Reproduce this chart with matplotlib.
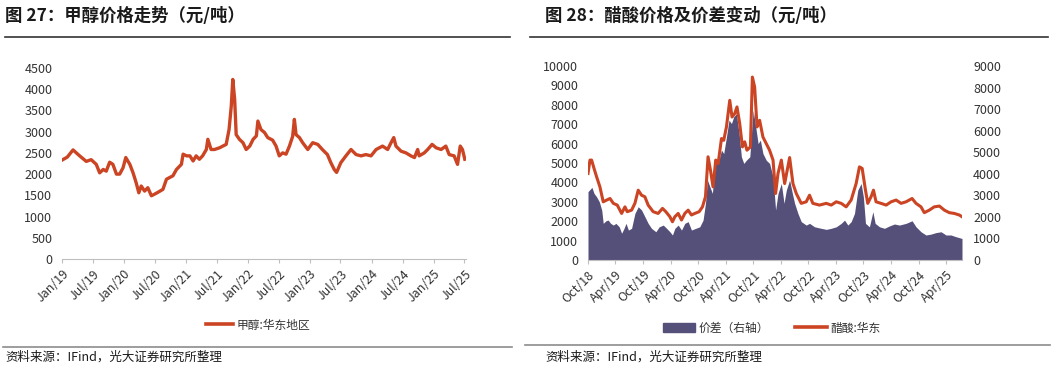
import pandas as pd
import matplotlib
matplotlib.use("Agg")
import matplotlib.pyplot as plt
import matplotlib.dates as mdates
from matplotlib.lines import Line2D
from matplotlib.patches import Patch

plt.rcParams['font.family'] = ['Noto Sans CJK SC', 'DejaVu Sans']

# --- 图27 甲醇:华东地区 (元/吨) ---
meth_dates = [
    "2019-01-01", "2019-02-01", "2019-03-07", "2019-04-15", "2019-05-24", "2019-06-22",
    "2019-07-22", "2019-08-11", "2019-09-01", "2019-09-19", "2019-10-09", "2019-10-28",
    "2019-11-18", "2019-12-07", "2019-12-27", "2020-01-12", "2020-02-05", "2020-02-24",
    "2020-03-13", "2020-03-29", "2020-04-12", "2020-05-02", "2020-05-21", "2020-06-11",
    "2020-07-01", "2020-07-19", "2020-08-18", "2020-09-08", "2020-09-27", "2020-10-16",
    "2020-11-06", "2020-12-05", "2020-12-15", "2021-01-04", "2021-01-24", "2021-02-12",
    "2021-03-02", "2021-03-21", "2021-04-09", "2021-05-01", "2021-05-10", "2021-05-29",
    "2021-06-18", "2021-07-18", "2021-08-06", "2021-08-26", "2021-09-12", "2021-09-25",
    "2021-10-04", "2021-10-15", "2021-10-24", "2021-11-12", "2021-12-03", "2021-12-22",
    "2022-01-12", "2022-02-01", "2022-02-20", "2022-03-01", "2022-03-19", "2022-04-09",
    "2022-04-28", "2022-05-27", "2022-06-16", "2022-07-05", "2022-07-25", "2022-08-14",
    "2022-09-03", "2022-09-22", "2022-10-02", "2022-10-12", "2022-11-01", "2022-11-20",
    "2022-12-20", "2023-01-18", "2023-02-17", "2023-03-16", "2023-04-15", "2023-05-05",
    "2023-05-25", "2023-06-08", "2023-07-03", "2023-08-02", "2023-09-01", "2023-10-01",
    "2023-10-30", "2023-11-28", "2023-12-28", "2024-01-27", "2024-03-05", "2024-04-04",
    "2024-04-24", "2024-05-10", "2024-05-23", "2024-06-22", "2024-07-21", "2024-08-19",
    "2024-09-09", "2024-09-28", "2024-10-07", "2024-11-06", "2024-11-26", "2024-12-22",
    "2025-01-15", "2025-02-13", "2025-03-13", "2025-04-02", "2025-05-01", "2025-05-21",
    "2025-06-06", "2025-06-19", "2025-07-03",
]
meth_price = [
    2330, 2400, 2570, 2430, 2300, 2340,
    2230, 2030, 2110, 2070, 2280, 2230,
    2000, 2000, 2150, 2390, 2230, 2030,
    1800, 1560, 1720, 1600, 1680, 1490,
    1530, 1570, 1640, 1880, 1920, 1960,
    2110, 2230, 2470, 2430, 2430, 2310,
    2430, 2350, 2430, 2580, 2820, 2580,
    2580, 2620, 2660, 2700, 3050, 3600,
    4230, 3760, 2930, 2820, 2740, 2580,
    2660, 2820, 2900, 3250, 3050, 2980,
    2860, 2800, 2660, 2430, 2500, 2470,
    2660, 2890, 3290, 2930, 2860, 2740,
    2580, 2740, 2700, 2580, 2460, 2270,
    2110, 2040, 2270, 2430, 2580, 2460,
    2430, 2460, 2430, 2580, 2660, 2580,
    2740, 2860, 2660, 2540, 2500, 2430,
    2390, 2580, 2430, 2500, 2580, 2700,
    2620, 2580, 2660, 2460, 2430, 2230,
    2660, 2580, 2350,
]

# --- 图28 醋酸:华东 (左轴) ---
acid_dates = [
    "2018-10-01", "2018-10-14", "2018-10-25", "2018-11-10", "2018-11-27", "2018-12-19",
    "2019-01-10", "2019-02-02", "2019-02-24", "2019-03-18", "2019-04-13", "2019-05-12",
    "2019-06-03", "2019-06-18", "2019-07-17", "2019-08-08", "2019-08-30", "2019-09-21",
    "2019-10-13", "2019-11-04", "2019-12-07", "2020-01-09", "2020-02-07", "2020-02-29",
    "2020-03-27", "2020-04-13", "2020-04-29", "2020-05-21", "2020-06-12", "2020-07-04",
    "2020-07-26", "2020-08-17", "2020-09-08", "2020-10-07", "2020-10-29", "2020-11-18",
    "2020-12-05", "2020-12-21", "2021-01-07", "2021-01-25", "2021-02-10", "2021-03-04",
    "2021-03-19", "2021-04-06", "2021-04-28", "2021-05-13", "2021-05-31", "2021-06-15",
    "2021-07-03", "2021-07-21", "2021-08-05", "2021-08-20", "2021-09-12", "2021-09-25",
    "2021-10-10", "2021-10-26", "2021-11-12", "2021-12-04", "2021-12-26", "2022-01-17",
    "2022-02-09", "2022-02-26", "2022-03-14", "2022-04-05", "2022-04-27", "2022-05-30",
    "2022-06-21", "2022-07-13", "2022-08-15", "2022-09-17", "2022-10-09", "2022-10-31",
    "2022-12-14", "2023-01-28", "2023-03-02", "2023-04-04", "2023-05-07", "2023-06-09",
    "2023-07-12", "2023-08-14", "2023-09-05", "2023-09-23", "2023-10-15", "2023-10-30",
    "2023-11-21", "2023-12-07", "2023-12-24", "2024-01-26", "2024-02-29", "2024-04-02",
    "2024-05-05", "2024-06-07", "2024-07-10", "2024-08-19", "2024-09-14", "2024-10-17",
    "2024-11-08", "2024-12-11", "2025-01-13", "2025-02-16", "2025-03-21", "2025-04-23",
    "2025-05-26", "2025-06-28", "2025-07-16",
]
acid_price = [
    4460, 5150, 5150, 4720, 4290, 3770,
    3000, 3090, 3170, 2920, 2830, 2400,
    2740, 2490, 2570, 2920, 3600, 3340,
    3260, 2830, 2490, 2400, 2660, 2490,
    2230, 1970, 2230, 2400, 2060, 2400,
    2570, 2320, 2400, 2490, 2740, 3260,
    5320, 4630, 3770, 5150, 4970, 6260,
    6170, 6860, 8230, 7370, 7550, 7890,
    7030, 5830, 6090, 5660, 5830, 9430,
    8920, 6860, 7200, 6340, 6000, 5660,
    5150, 3430, 4460, 5150, 3940, 5280,
    3940, 3430, 2920, 3000, 3340, 2920,
    2830, 2920, 2830, 3000, 2920, 2740,
    3090, 3940, 4800, 4720, 3600, 2920,
    3260, 3600, 3000, 2920, 2830, 3000,
    3090, 2920, 3000, 3170, 2920, 2740,
    2440, 2570, 2740, 2780, 2570, 2440,
    2400, 2320, 2230,
]

# --- 图28 价差 (右轴) ---
spread_dates = [
    "2018-10-01", "2018-10-14", "2018-10-27", "2018-11-10", "2018-11-27", "2018-12-15",
    "2018-12-31", "2019-01-10", "2019-01-28", "2019-02-12", "2019-02-28", "2019-03-18",
    "2019-04-04", "2019-04-26", "2019-05-12", "2019-05-28", "2019-06-10", "2019-06-26",
    "2019-07-17", "2019-08-08", "2019-08-30", "2019-09-21", "2019-10-13", "2019-11-04",
    "2019-11-26", "2019-12-25", "2020-01-16", "2020-02-12", "2020-03-05", "2020-03-27",
    "2020-04-13", "2020-04-29", "2020-05-21", "2020-06-12", "2020-07-04", "2020-07-26",
    "2020-08-17", "2020-09-15", "2020-10-11", "2020-11-02", "2020-11-18", "2020-12-01",
    "2020-12-17", "2021-01-03", "2021-01-19", "2021-02-10", "2021-03-04", "2021-03-19",
    "2021-04-06", "2021-04-23", "2021-05-09", "2021-05-24", "2021-06-11", "2021-06-29",
    "2021-07-14", "2021-07-30", "2021-08-16", "2021-09-08", "2021-09-30", "2021-10-17",
    "2021-11-02", "2021-11-17", "2021-12-04", "2021-12-26", "2022-01-17", "2022-02-09",
    "2022-02-26", "2022-03-14", "2022-04-05", "2022-04-23", "2022-05-08", "2022-05-30",
    "2022-06-17", "2022-07-02", "2022-07-24", "2022-08-15", "2022-09-17", "2022-10-09",
    "2022-11-11", "2022-12-25", "2023-01-28", "2023-03-02", "2023-04-04", "2023-05-07",
    "2023-05-29", "2023-06-20", "2023-07-12", "2023-08-03", "2023-08-25", "2023-09-16",
    "2023-10-01", "2023-10-15", "2023-11-10", "2023-12-03", "2023-12-18", "2024-01-16",
    "2024-02-18", "2024-03-22", "2024-04-24", "2024-05-27", "2024-07-10", "2024-08-19",
    "2024-09-14", "2024-10-17", "2024-11-19", "2024-12-22", "2025-01-24", "2025-02-27",
    "2025-04-01", "2025-05-04", "2025-06-06", "2025-07-16",
]
spread = [
    3170, 3270, 3370, 3090, 2930, 2700,
    2320, 1700, 1820, 1850, 1700, 1620,
    1700, 1540, 1240, 1470, 1700, 1390,
    1470, 2160, 2470, 2320, 2010, 1700,
    1470, 1310, 1540, 1620, 1470, 1310,
    1160, 1470, 1620, 1390, 1700, 1780,
    1390, 1470, 1540, 1850, 2630, 3710,
    3400, 3090, 4480, 4480, 5100, 4940,
    5710, 6490, 6330, 6640, 6790, 5870,
    4790, 4480, 4630, 4790, 6950, 6180,
    5400, 5560, 4940, 4630, 4480, 3860,
    2320, 3090, 3550, 2630, 3240, 3710,
    3090, 2630, 2160, 1780, 1620, 1700,
    1540, 1470, 1420, 1470, 1540, 1700,
    1850, 1620, 1780, 2160, 3240, 3550,
    2930, 1700, 1540, 2240, 1700, 1540,
    1470, 1580, 1670, 1620, 1700, 1820,
    1540, 1310, 1160, 1200, 1270, 1310,
    1160, 1160, 1080, 1000,
]

RED = "#CB4423"
PURPLE = "#55507A"
GREY = "#BFBFBF"
TXT = "#333333"

W, H = 1054, 369
fig = plt.figure(figsize=(W / 100, H / 100), dpi=100)


def fx(px):
    return px / W


def fy(py):
    return 1 - py / H


def style_axis(ax, first, last):
    for s in ["top", "right", "left"]:
        ax.spines[s].set_visible(False)
    ax.spines["bottom"].set_color(GREY)
    ticks = pd.date_range(first, last, freq="6MS")
    ax.set_xticks(ticks)
    ax.set_xticklabels([t.strftime("%b/%y") for t in ticks], rotation=45,
                       ha="right", va="top", rotation_mode="anchor")
    ax.tick_params(axis="x", colors=GREY, length=3, labelcolor=TXT, labelsize=9, pad=3)
    ax.tick_params(axis="y", length=0, labelcolor=TXT, labelsize=9, pad=7)


# ---------------- left chart ----------------
ax1 = fig.add_axes([fx(62), fy(259), fx(466 - 62), (259 - 68) / H])
ax1.plot(pd.to_datetime(meth_dates), meth_price, color=RED, lw=2.4, label="甲醇:华东地区")
ax1.set_ylim(0, 4500)
ax1.set_yticks(range(0, 4501, 500))
style_axis(ax1, "2019-01-01", "2025-07-01")
ax1.set_xlim(pd.Timestamp("2019-01-01"), pd.Timestamp("2025-07-10"))

# ---------------- right chart ----------------
ax2 = fig.add_axes([fx(588), fy(260), fx(962 - 588), (260 - 66) / H])
ax3 = ax2.twinx()
ax3.fill_between(pd.to_datetime(spread_dates), 0, spread, color=PURPLE, lw=0)
ax2.plot(pd.to_datetime(acid_dates), acid_price, color=RED, lw=2.2)
ax2.set_zorder(ax3.get_zorder() + 1)
ax2.patch.set_visible(False)
ax2.set_ylim(0, 10000)
ax2.set_yticks(range(0, 10001, 1000))
ax3.set_ylim(0, 9000)
ax3.set_yticks(range(0, 9001, 1000))
style_axis(ax2, "2018-10-01", "2025-04-01")
ax2.set_xlim(pd.Timestamp("2018-10-01"), pd.Timestamp("2025-07-16"))
for s in ["top", "right", "left", "bottom"]:
    ax3.spines[s].set_visible(False)
ax3.tick_params(axis="y", length=0, labelcolor=TXT, labelsize=9, pad=8)

# ---------------- titles, rules, legends, sources ----------------
fig.text(fx(5), fy(16), "图 27：甲醇价格走势（元/吨）", fontsize=12.5, fontweight="bold",
         color="#1a1a1a", va="center", ha="left")
fig.text(fx(545), fy(16), "图 28：醋酸价格及价差变动（元/吨）", fontsize=12.5, fontweight="bold",
         color="#1a1a1a", va="center", ha="left")

for x0, x1, y, c in [(5, 510, 37, "#333333"), (530, 1048, 37, "#333333"),
                     (3, 512, 347, "#8c8c8c"), (525, 1050, 345, "#8c8c8c")]:
    fig.add_artist(Line2D([fx(x0), fx(x1)], [fy(y), fy(y)], color=c, lw=1.2))

fig.legend(handles=[Line2D([], [], color=RED, lw=2.6)], labels=["甲醇:华东地区"],
           loc="center", bbox_to_anchor=(fx(258), fy(325)), frameon=False,
           fontsize=8.5, handlelength=2.3, handletextpad=0.3, labelcolor=TXT)
fig.legend(handles=[Patch(color=PURPLE), Line2D([], [], color=RED, lw=2.6)],
           labels=["价差（右轴）", "醋酸:华东"], ncol=2,
           loc="center", bbox_to_anchor=(fx(772), fy(328)), frameon=False,
           fontsize=8.5, handlelength=2.7, handleheight=0.9, handletextpad=0.3,
           columnspacing=2.2, labelcolor=TXT)

fig.text(fx(5), fy(357), "资料来源：IFind，光大证券研究所整理", fontsize=9, color="#1a1a1a",
         va="center", ha="left")
fig.text(fx(545), fy(357), "资料来源：IFind，光大证券研究所整理", fontsize=9, color="#1a1a1a",
         va="center", ha="left")

fig.savefig("out.png", dpi=100)
